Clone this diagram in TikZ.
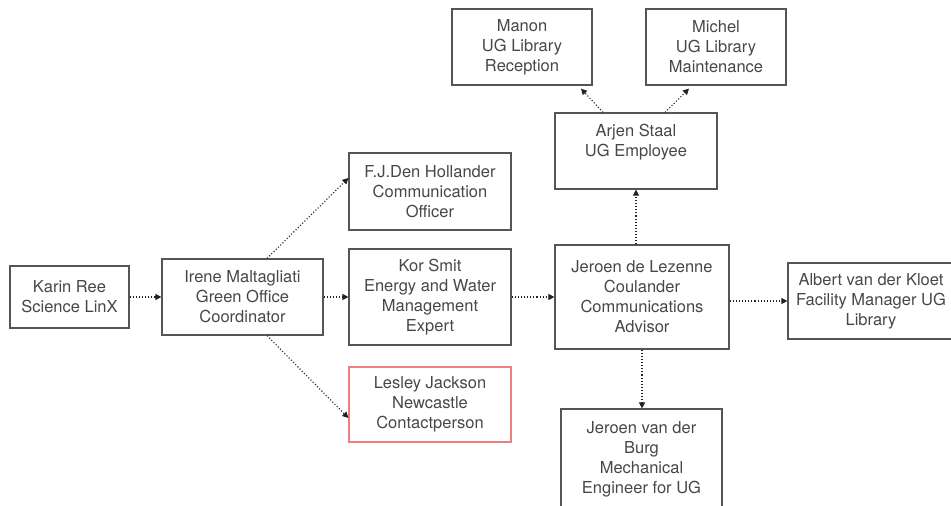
\documentclass[tikz,border=0pt]{standalone}
\usepackage{fontspec}
\setmainfont{TeX Gyre Heros}
\usetikzlibrary{arrows.meta,calc}
\definecolor{boxline}{HTML}{555555}
\definecolor{txtcol}{HTML}{474747}
\definecolor{redline}{HTML}{EE7F7F}
\definecolor{arrcol}{HTML}{222222}
\tikzset{
  box/.style={draw=boxline, line width=1.2pt, rectangle, align=center,
    text=txtcol, font=\fontsize{16.5}{20}\selectfont, inner sep=0pt},
  redbox/.style={box, draw=redline},
  txt/.style={align=center, text=txtcol, font=\fontsize{16.5}{20}\selectfont, inner sep=0pt},
  link/.style={draw=arrcol, line width=1.1pt, dotted,
    -{Triangle[length=6pt,width=6pt]}},
}
\begin{document}
\begin{tikzpicture}[x=1pt,y=-1pt]
  \useasboundingbox (0,0) rectangle (951,506);
  \clip (0,0) rectangle (951,506);

  % people boxes
  \node[box, minimum width=119pt, minimum height=62pt] (karin) at (69.5,297)
    {Karin Ree\\Science LinX};
  \node[box, minimum width=161pt, minimum height=76pt] (irene) at (242.5,297)
    {Irene Maltagliati\\Green Office\\Coordinator};
  \node[box, minimum width=162pt, minimum height=77pt] (fj) at (430,191.5)
    {F.J.Den Hollander\\Communication\\Officer};
  \node[box, minimum width=162pt, minimum height=96pt] (kor) at (430,297)
    {Kor Smit\\Energy and Water\\Management\\Expert};
  \node[redbox, minimum width=162pt, minimum height=75pt] (lesley) at (430,404.5)
    {Lesley Jackson\\Newcastle\\Contactperson};
  \node[box, minimum width=174pt, minimum height=104pt] (jdl) at (642,297)
    {Jeroen de Lezenne\\Coulander\\Communications\\Advisor};
  \node[box, minimum width=162pt, minimum height=76pt] (arjen) at (636,151) {};
  \node[txt] (arjentxt) at (636,142) {Arjen Staal\\UG Employee};
  \node[box, minimum width=140pt, minimum height=76pt] (manon) at (522,47)
    {Manon\\UG Library\\Reception};
  \node[box, minimum width=140pt, minimum height=76pt] (michel) at (716,47)
    {Michel\\UG Library\\Maintenance};
  \node[box, minimum width=166pt, minimum height=76pt] (albert) at (871,301)
    {Albert van der Kloet\\Facility Manager UG\\Library};
  \node[box, minimum width=161pt, minimum height=100pt] (jvdb) at (641.5,459)
    {Jeroen van der\\Burg\\Mechanical\\Engineer for UG};

  % connectors
  \draw[link] (karin.east) -- (irene.west);
  \draw[link] (irene.east) -- (kor.west);
  \draw[link] ([xshift=24.5pt]irene.north) -- ([yshift=13.5pt]fj.west);
  \draw[link] ([xshift=24.5pt]irene.south) -- ([yshift=-13.5pt]lesley.west);
  \draw[link] (kor.east) -- (jdl.west);
  \draw[link] (albert.west -| jdl.east) -- (albert.west);
  \draw[link] (jdl.north -| arjen.south) -- (arjen.south);
  \draw[link] (jdl.south) -- (jdl.south |- jvdb.north);
  \draw[link] ([xshift=-33pt]arjen.north) -- ([xshift=59pt,yshift=-3pt]manon.south);
  \draw[link] ([xshift=29pt]arjen.north) -- ([xshift=-27pt,yshift=-3pt]michel.south);
\end{tikzpicture}
\end{document}
